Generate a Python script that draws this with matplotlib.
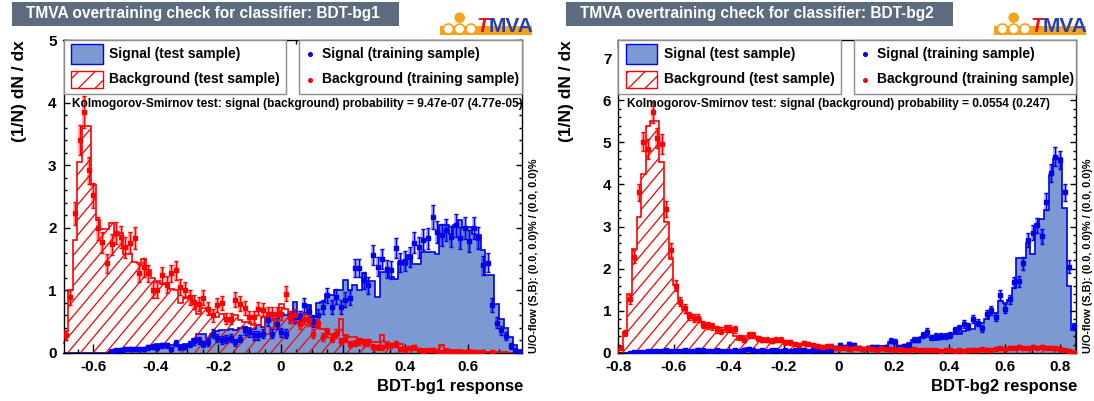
import numpy as np
import matplotlib
matplotlib.use("Agg")
import matplotlib.pyplot as plt
from matplotlib.patches import Rectangle, Ellipse
from matplotlib.lines import Line2D
from matplotlib.collections import LineCollection
from matplotlib.ticker import MultipleLocator, FuncFormatter

# --- BDT-bg1: normalised MVA response, 100 bins
bg1_range = (-0.6955, 0.774)
bg1_sig_test = [
    0, 0, 0, 0, 0, 0, 0, 0, 0, 0,
    0.02, 0.03, 0.03, 0.05, 0.06, 0.06, 0.06, 0.07, 0.08, 0.08,
    0.15, 0.10, 0.10, 0.12, 0.14, 0.13, 0.14, 0.15, 0.23, 0.30,
    0.30, 0.24, 0.30, 0.35, 0.36, 0.36, 0.38, 0.36, 0.40, 0.42,
    0.40, 0.38, 0.45, 0.42, 0.58, 0.60, 0.62, 0.62, 0.60, 0.62,
    0.81, 0.62, 0.62, 0.76, 0.57, 0.80, 0.82, 0.94, 0.92, 1.00,
    1.00, 1.17, 1.00, 1.09, 1.00, 1.28, 1.15, 1.15, 0.90, 1.29,
    1.30, 1.22, 1.18, 1.45, 1.40, 1.56, 1.42, 1.42, 1.61, 1.62,
    1.62, 1.58, 2.04, 2.04, 1.90, 2.04, 2.12, 2.00, 2.02, 1.90,
    1.88, 1.64, 1.25, 1.25, 0.78, 0.55, 0.40, 0.26, 0.12, 0.04,
]
bg1_bkg_test = [
    0.35, 1.00, 1.80, 3.05, 3.62, 3.62, 2.68, 2.12, 1.98, 1.98,
    2.08, 1.90, 1.92, 1.58, 1.58, 1.45, 1.43, 1.50, 1.32, 1.20,
    1.15, 1.10, 1.12, 1.02, 1.00, 0.80, 0.90, 0.88, 0.80, 0.62,
    0.72, 0.70, 0.60, 0.58, 0.62, 0.55, 0.50, 0.60, 0.52, 0.50,
    0.50, 0.45, 0.45, 0.58, 0.30, 0.40, 0.55, 0.78, 0.70, 0.62,
    0.49, 0.50, 0.52, 0.49, 0.45, 0.42, 0.38, 0.36, 0.30, 0.28,
    0.55, 0.28, 0.25, 0.25, 0.22, 0.20, 0.20, 0.17, 0.17, 0.28,
    0.17, 0.12, 0.12, 0.14, 0.10, 0.08, 0.08, 0.05, 0.06, 0.05,
    0.04, 0.04, 0.13, 0.06, 0.05, 0.04, 0.04, 0.03, 0.04, 0.03,
    0.03, 0.02, 0.02, 0.02, 0.01, 0.01, 0.01, 0.00, 0.00, 0.00,
]
bg1_sig_train = [
    0, 0, 0, 0, 0, 0, 0, 0, 0, 0,
    0.03, 0.04, 0.05, 0.06, 0.07, 0.07, 0.07, 0.07, 0.09, 0.10,
    0.09, 0.12, 0.12, 0.07, 0.16, 0.09, 0.10, 0.14, 0.19, 0.20,
    0.14, 0.17, 0.31, 0.24, 0.21, 0.22, 0.24, 0.17, 0.23, 0.36,
    0.33, 0.28, 0.28, 0.31, 0.52, 0.31, 0.47, 0.33, 0.31, 0.58,
    0.58, 0.58, 0.76, 0.67, 0.51, 0.60, 0.74, 0.92, 0.73, 0.90,
    0.73, 0.85, 0.88, 1.36, 1.36, 1.16, 1.08, 1.56, 1.38, 1.50,
    1.34, 1.33, 1.68, 1.45, 1.47, 1.53, 1.76, 1.69, 1.81, 1.83,
    2.17, 1.93, 1.88, 1.96, 1.86, 2.04, 1.84, 2.00, 1.79, 2.00,
    1.84, 1.40, 1.44, 0.77, 0.48, 0.36, 0.27, 0.11, 0.04, 0.01,
]
bg1_bkg_train = [
    0.28, 0.89, 2.23, 3.40, 3.85, 2.92, 2.52, 1.99, 1.77, 1.43,
    1.74, 1.91, 1.85, 1.69, 1.76, 1.84, 1.28, 1.37, 1.27, 1.01,
    1.00, 1.24, 1.09, 1.27, 1.32, 1.05, 1.00, 0.89, 0.81, 0.78,
    0.88, 0.71, 0.60, 0.76, 0.80, 0.55, 0.55, 0.85, 0.79, 0.72,
    0.57, 0.58, 0.71, 0.69, 0.63, 0.63, 0.63, 0.63, 0.95, 0.57,
    0.60, 0.47, 0.55, 0.52, 0.31, 0.48, 0.25, 0.33, 0.23, 0.31,
    0.19, 0.23, 0.15, 0.16, 0.19, 0.17, 0.17, 0.10, 0.09, 0.09,
    0.12, 0.12, 0.14, 0.07, 0.05, 0.08, 0.09, 0.05, 0.03, 0.04,
    0.04, 0.03, 0.02, 0.03, 0.02, 0.02, 0.01, 0.02, 0.01, 0.01,
    0.01, 0.01, 0.00, 0.01, 0.00, 0.00, 0.00, 0.00, 0.00, 0.00,
]
bg1_ks = "9.47e-07 (4.77e-05)"
bg1_events = 4200

# --- BDT-bg2
bg2_range = (-0.8005, 0.8587)
bg2_sig_test = [
    0.00, 0.00, 0.01, 0.02, 0.02, 0.03, 0.04, 0.04, 0.05, 0.05,
    0.05, 0.05, 0.05, 0.05, 0.05, 0.05, 0.06, 0.09, 0.06, 0.05,
    0.05, 0.05, 0.05, 0.06, 0.05, 0.06, 0.06, 0.08, 0.11, 0.07,
    0.06, 0.06, 0.07, 0.06, 0.07, 0.07, 0.06, 0.07, 0.07, 0.07,
    0.08, 0.07, 0.08, 0.08, 0.09, 0.09, 0.10, 0.12, 0.15, 0.15,
    0.15, 0.13, 0.13, 0.13, 0.13, 0.13, 0.13, 0.17, 0.17, 0.27,
    0.27, 0.15, 0.15, 0.23, 0.31, 0.31, 0.37, 0.37, 0.30, 0.32,
    0.33, 0.39, 0.39, 0.45, 0.45, 0.52, 0.56, 0.56, 0.72, 0.72,
    0.80, 0.96, 0.96, 1.24, 1.18, 1.25, 1.54, 2.25, 2.25, 2.60,
    2.35, 3.06, 3.17, 3.40, 4.23, 4.60, 4.62, 3.45, 1.60, 0.55,
]
bg2_bkg_test = [
    0.10, 0.50, 1.39, 2.47, 3.22, 4.25, 5.40, 5.50, 5.50, 4.54,
    3.10, 2.23, 1.62, 1.26, 1.02, 0.92, 0.85, 0.80, 0.72, 0.70,
    0.65, 0.60, 0.55, 0.55, 0.55, 0.40, 0.32, 0.40, 0.40, 0.38,
    0.33, 0.32, 0.30, 0.30, 0.29, 0.28, 0.25, 0.24, 0.22, 0.21,
    0.21, 0.20, 0.19, 0.18, 0.17, 0.16, 0.16, 0.14, 0.13, 0.13,
    0.12, 0.12, 0.11, 0.10, 0.11, 0.10, 0.09, 0.10, 0.09, 0.08,
    0.08, 0.09, 0.08, 0.07, 0.08, 0.07, 0.07, 0.06, 0.07, 0.06,
    0.06, 0.07, 0.06, 0.06, 0.05, 0.06, 0.06, 0.07, 0.07, 0.08,
    0.07, 0.08, 0.09, 0.10, 0.11, 0.12, 0.13, 0.13, 0.12, 0.13,
    0.13, 0.14, 0.14, 0.13, 0.12, 0.12, 0.10, 0.08, 0.05, 0.03,
]
bg2_sig_train = [
    0.00, 0.00, 0.01, 0.02, 0.03, 0.03, 0.04, 0.04, 0.05, 0.04,
    0.06, 0.05, 0.04, 0.05, 0.06, 0.04, 0.05, 0.08, 0.06, 0.05,
    0.04, 0.06, 0.05, 0.04, 0.05, 0.06, 0.05, 0.08, 0.10, 0.06,
    0.05, 0.07, 0.05, 0.06, 0.07, 0.05, 0.06, 0.05, 0.07, 0.06,
    0.07, 0.05, 0.08, 0.06, 0.07, 0.06, 0.08, 0.12, 0.19, 0.15,
    0.21, 0.19, 0.12, 0.10, 0.12, 0.15, 0.14, 0.12, 0.15, 0.29,
    0.27, 0.15, 0.16, 0.20, 0.32, 0.32, 0.43, 0.51, 0.37, 0.41,
    0.41, 0.41, 0.42, 0.55, 0.59, 0.69, 0.63, 0.80, 0.72, 0.59,
    0.92, 1.01, 0.85, 1.37, 1.05, 1.27, 1.68, 1.70, 2.13, 2.68,
    2.86, 3.03, 2.77, 3.59, 4.28, 4.66, 4.58, 3.81, 2.05, 0.64,
]
bg2_bkg_train = [
    0.11, 0.47, 1.27, 2.29, 3.81, 5.02, 4.84, 5.71, 5.11, 4.96,
    3.41, 2.45, 1.60, 1.22, 1.06, 0.88, 0.82, 0.82, 0.67, 0.66,
    0.63, 0.56, 0.53, 0.59, 0.58, 0.56, 0.37, 0.32, 0.43, 0.43,
    0.35, 0.32, 0.32, 0.29, 0.32, 0.31, 0.25, 0.25, 0.21, 0.19,
    0.23, 0.22, 0.18, 0.17, 0.15, 0.17, 0.17, 0.13, 0.12, 0.12,
    0.10, 0.13, 0.12, 0.09, 0.12, 0.10, 0.08, 0.11, 0.09, 0.10,
    0.07, 0.09, 0.08, 0.06, 0.09, 0.07, 0.06, 0.08, 0.06, 0.07,
    0.05, 0.07, 0.07, 0.05, 0.06, 0.05, 0.07, 0.08, 0.06, 0.09,
    0.08, 0.07, 0.10, 0.11, 0.10, 0.13, 0.12, 0.14, 0.11, 0.12,
    0.14, 0.13, 0.15, 0.12, 0.13, 0.11, 0.09, 0.07, 0.05, 0.02,
]
bg2_ks = "0.0554 (0.247)"
bg2_events = 5500

W, H = 1094, 401
plt.rcParams['font.family'] = ['Liberation Sans', 'DejaVu Sans']
plt.rcParams['font.weight'] = 'bold'
plt.rcParams['axes.unicode_minus'] = False
plt.rcParams['hatch.linewidth'] = 0.9

SIG_FILL = '#7d99d1'
SIG_LINE = '#0000ee'
BKG = '#ff0000'
TITLE_BG = '#5c6b7e'
ORANGE = '#f7a21b'

fig = plt.figure(figsize=(W / 100, H / 100), dpi=100)


def fx(x):
    return x / W


def fy(y):
    return 1 - y / H


def rect(x0, y0, x1, y1, **kw):
    r = Rectangle((fx(x0), fy(y1)), (x1 - x0) / W, (y1 - y0) / H,
                  transform=fig.transFigure, **kw)
    fig.add_artist(r)
    return r


def hatch_lines(ax, clip, color, step=12.7, angle=50):
    # diagonal ROOT-style hatching clipped to the histogram area
    bb = ax.get_position()
    aw, ah = bb.width * W, bb.height * H
    run = ah / np.tan(np.radians(angle))
    segs = []
    u = -run
    while u < aw:
        segs.append([(u / aw, 0), ((u + run) / aw, 1)])
        u += step
    lc = LineCollection(segs, colors=color, linewidths=0.9, transform=ax.transAxes, zorder=2)
    lc.set_clip_path(clip)
    ax.add_collection(lc, autolim=False)


def tmva_logo(x0):
    rect(x0, 26.5, x0 + 92, 35.4, facecolor=ORANGE, edgecolor='none', zorder=6)
    head = Ellipse((fx(x0 + 19.7), fy(17.7)), 10.6 / W, 10.6 / H,
                   transform=fig.transFigure, facecolor=ORANGE, edgecolor='none', zorder=6)
    fig.add_artist(head)
    for dx in (8.4, 19.7, 31.0):
        c = Ellipse((fx(x0 + dx), fy(29.0)), 10 / W, 10 / H, transform=fig.transFigure,
                    facecolor='white', edgecolor=ORANGE, lw=1.2, zorder=7)
        fig.add_artist(c)
    fig.text(fx(x0 + 37), fy(31.5), 'T', color='#e3141b', fontsize=15, style='italic',
             ha='left', va='baseline', zorder=8)
    fig.text(fx(x0 + 49), fy(31.5), 'MVA', color='#2340b8', fontsize=15,
             ha='left', va='baseline', zorder=8)


def num_fmt(v, _):
    return '%g' % (round(v, 3) + 0.0)


def draw_panel(name, x_range, ylim, sig_test, bkg_test, sig_train, bkg_train,
               ks, n_events, x0, x1, minor_x, off, ytitle_x):
    ax = fig.add_axes([fx(x0), fy(353), (x1 - x0) / W, 313 / H])
    edges = np.linspace(x_range[0], x_range[1], len(sig_test) + 1)
    centers = 0.5 * (edges[1:] + edges[:-1])
    width = edges[1] - edges[0]

    ax.stairs(sig_test, edges, fill=True, color=SIG_FILL, zorder=1)
    ax.stairs(sig_test, edges, color=SIG_LINE, lw=1.2, zorder=1.5)
    area = ax.stairs(bkg_test, edges, fill=True, facecolor='none', edgecolor='none')
    hatch_lines(ax, area, BKG)
    ax.stairs(bkg_test, edges, color=BKG, lw=1.2, zorder=3)

    for vals, col in ((sig_train, SIG_LINE), (bkg_train, BKG)):
        v = np.asarray(vals, dtype=float)
        m = v > 0
        err = np.sqrt(v / (n_events * width))
        ax.errorbar(centers[m], v[m], yerr=err[m], fmt='none', ecolor=col, elinewidth=3,
                    alpha=0.3, zorder=4)
        ax.errorbar(centers[m], v[m], yerr=err[m], fmt='s', ms=3.2, color=col, mec=col,
                    elinewidth=1, capsize=1.5, capthick=1, zorder=5)

    ax.set_xlim(*x_range)
    ax.set_ylim(*ylim)
    ax.xaxis.set_major_locator(MultipleLocator(0.2))
    ax.xaxis.set_minor_locator(MultipleLocator(minor_x))
    ax.yaxis.set_major_locator(MultipleLocator(1))
    ax.yaxis.set_minor_locator(MultipleLocator(0.2))
    ax.xaxis.set_major_formatter(FuncFormatter(num_fmt))
    ax.yaxis.set_major_formatter(FuncFormatter(num_fmt))
    ax.tick_params(which='both', direction='in', top=True, right=True, width=1,
                   labelsize=11, colors='black')
    ax.tick_params(axis='x', which='major', length=6.5, pad=5)
    ax.tick_params(axis='x', which='minor', length=3.2)
    ax.tick_params(axis='y', which='major', length=4.5, pad=5)
    ax.tick_params(axis='y', which='minor', length=2.3)
    for s in ax.spines.values():
        s.set_linewidth(1)

    # title bar and logo
    rect(12.4 + off, 1.8, 398.5 + off, 25.8, facecolor=TITLE_BG, edgecolor='none')
    fig.text(fx(26.5 + off), fy(13.8), 'TMVA overtraining check for classifier: ' + name,
             color='white', fontsize=11.2, ha='left', va='center')
    tmva_logo(440 + off)

    # legends
    xm1, xm2 = x0 + 222.2, x0 + 235.3
    rect(x0, 40, xm1, 93.7, facecolor='white', edgecolor='#8c8c8c', lw=1, zorder=5)
    rect(xm2, 40, x1, 93.7, facecolor='white', edgecolor='#8c8c8c', lw=1, zorder=5)
    rect(x0 + 7.2, 44.5, x0 + 39, 63.6, facecolor=SIG_FILL, edgecolor=SIG_LINE, lw=1, zorder=6)
    rect(x0 + 7.2, 70.7, x0 + 39, 87.7, facecolor='white', edgecolor=BKG, lw=1,
         hatch='//', zorder=6)
    fig.text(fx(x0 + 45.5), fy(54), 'Signal (test sample)', fontsize=10, va='center', zorder=7)
    fig.text(fx(x0 + 45.5), fy(79.5), 'Background (test sample)', fontsize=10, va='center', zorder=7)
    for yy, col, lab in ((54, SIG_LINE, 'Signal (training sample)'),
                         (79.5, BKG, 'Background (training sample)')):
        fig.add_artist(Line2D([fx(xm2 + 11.5)], [fy(yy)], marker='o', ms=2.6, color=col,
                              transform=fig.transFigure, zorder=7))
        fig.text(fx(xm2 + 23), fy(yy), lab, fontsize=10, va='center', zorder=7)

    fig.text(fx(x0 + 9), fy(104.5),
             'Kolmogorov-Smirnov test: signal (background) probability = ' + ks,
             fontsize=8.6, va='center', zorder=7)

    # axis titles and overflow note
    fig.text(fx(ytitle_x), fy(40), '(1/N) dN / dx', rotation=90, fontsize=12.5,
             ha='center', va='top')
    fig.text(fx(x1 + 1), fy(387), name + ' response', fontsize=12, ha='right', va='center')
    fig.text(fx(x1 + 12), fy(353), 'U/O-flow (S,B): (0.0, 0.0)% / (0.0, 0.0)%',
             rotation=90, fontsize=7.8, ha='center', va='bottom')
    return ax


draw_panel('BDT-bg1', bg1_range, (0, 5), bg1_sig_test, bg1_bkg_test, bg1_sig_train,
           bg1_bkg_train, bg1_ks, bg1_events, 63.5, 522, 0.05, 0, 20)
draw_panel('BDT-bg2', bg2_range, (0, 7.43), bg2_sig_test, bg2_bkg_test, bg2_sig_train,
           bg2_bkg_train, bg2_ks, bg2_events, 618.3, 1076, 0.1, 554, 567)

fig.savefig('out.png', dpi=100)
